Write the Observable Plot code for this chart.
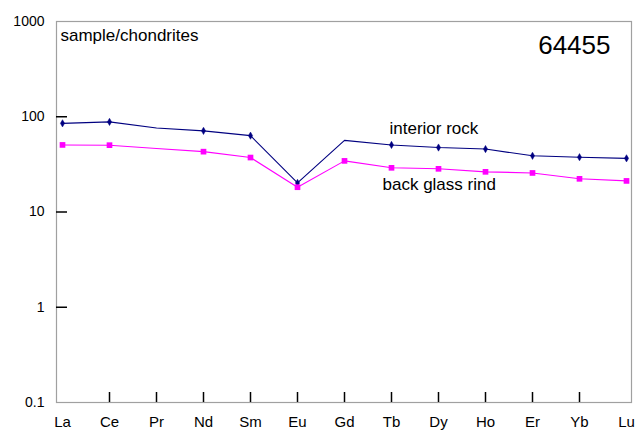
<!DOCTYPE html>
<html>
<head>
<meta charset="utf-8">
<script src="https://cdn.jsdelivr.net/npm/d3@7"></script>
<script src="https://cdn.jsdelivr.net/npm/@observablehq/plot@0.6"></script>
<style>
  html, body { margin: 0; padding: 0; background: #fff; }
  #chart svg { font-family: "Liberation Sans", Arial, sans-serif; display: block; }
</style>
</head>
<body>
<div id="chart"></div>
<script>
// Rare earth elements (x categories)
const elements = ["La", "Ce", "Pr", "Nd", "Sm", "Eu", "Gd", "Tb", "Dy", "Ho", "Er", "Yb", "Lu"];
// sample/chondrites values
const interiorRock  = [85.3, 88.3, 76.1, 71.1, 63.3, 20.2, 56.5, 50.6, 47.5, 45.8, 38.9, 37.6, 36.6];
const backGlassRind = [50.6, 50.3, 46.5, 43.0, 37.3, 18.2, 34.4, 29.1, 28.4, 26.4, 25.7, 22.3, 21.2];
// which points carry a marker
const interiorMarked = [true, true, false, true, true, true, false, true, true, true, true, true, true];
const rindMarked     = [true, true, false, true, true, true, true, true, true, true, true, true, true];
// axis ticks
const yTickLabels = [1000, 100, 10, 1, 0.1];
const yTickMarks = [100, 10, 1];
const xTickMarks = elements.slice(1, -1);
// annotations
const interiorLabel = {text: "interior rock", element: "Tb", value: 75.5};
const rindLabel = {text: "back glass rind", element: "Tb", value: 19.3};
const yLabel = "sample/chondrites";
const sampleId = "64455";

const rows = (vals, marks) => elements.map((e, i) => ({element: e, value: vals[i], marked: marks[i]}));
const interior = rows(interiorRock, interiorMarked);
const rind = rows(backGlassRind, rindMarked);

const navy = "#000080";
const magenta = "#FF00FF";

const plot = Plot.plot({
  width: 641,
  height: 430,
  marginLeft: 56,
  marginRight: 10,
  marginTop: 21,
  marginBottom: 28,
  style: {fontFamily: "'Liberation Sans', Arial, sans-serif", background: "#fff", color: "#000"},
  x: {type: "point", domain: elements, padding: 0, label: null},
  y: {type: "log", domain: [0.1, 1000], label: null},
  marks: [
    Plot.frame({stroke: "#a0a0a0", strokeWidth: 1.2}),
    Plot.axisY({ticks: yTickLabels, tickSize: 0, tickPadding: 12, fontSize: 14, tickFormat: d => String(d), label: null}),
    Plot.axisY({ticks: yTickMarks, tickSize: 11, dx: 11, text: null, label: null, stroke: "#000", strokeWidth: 1.5}),
    Plot.axisX({ticks: xTickMarks, tickSize: 10, dy: -10, text: null, label: null, stroke: "#000", strokeWidth: 1.5}),
    Plot.axisX({tickSize: 0, tickPadding: 14, fontSize: 15, label: null}),
    Plot.line(interior, {x: "element", y: "value", stroke: navy, strokeWidth: 1.1}),
    Plot.line(rind, {x: "element", y: "value", stroke: magenta, strokeWidth: 1.1}),
    Plot.dot(interior, {filter: d => d.marked, x: "element", y: "value", symbol: "diamond", r: 2.2, fill: navy, stroke: navy, strokeWidth: 0.5}),
    Plot.dot(rind, {filter: d => d.marked, x: "element", y: "value", symbol: "square", r: 3.2, fill: magenta}),
    Plot.text([interiorLabel], {x: "element", y: "value", text: "text", dx: -2, textAnchor: "start", fontSize: 17, fill: "#000"}),
    Plot.text([rindLabel], {x: "element", y: "value", text: "text", dx: -9, textAnchor: "start", fontSize: 17, fill: "#000"}),
    Plot.text([yLabel], {frameAnchor: "top-left", lineAnchor: "middle", dx: 4, dy: 13.6, fontSize: 17, textAnchor: "start", fill: "#000"}),
    Plot.text([sampleId], {frameAnchor: "top-right", lineAnchor: "middle", dx: -21, dy: 24, fontSize: 26, textAnchor: "end", fill: "#000"})
  ]
});
document.getElementById("chart").appendChild(plot);
</script>
</body>
</html>
